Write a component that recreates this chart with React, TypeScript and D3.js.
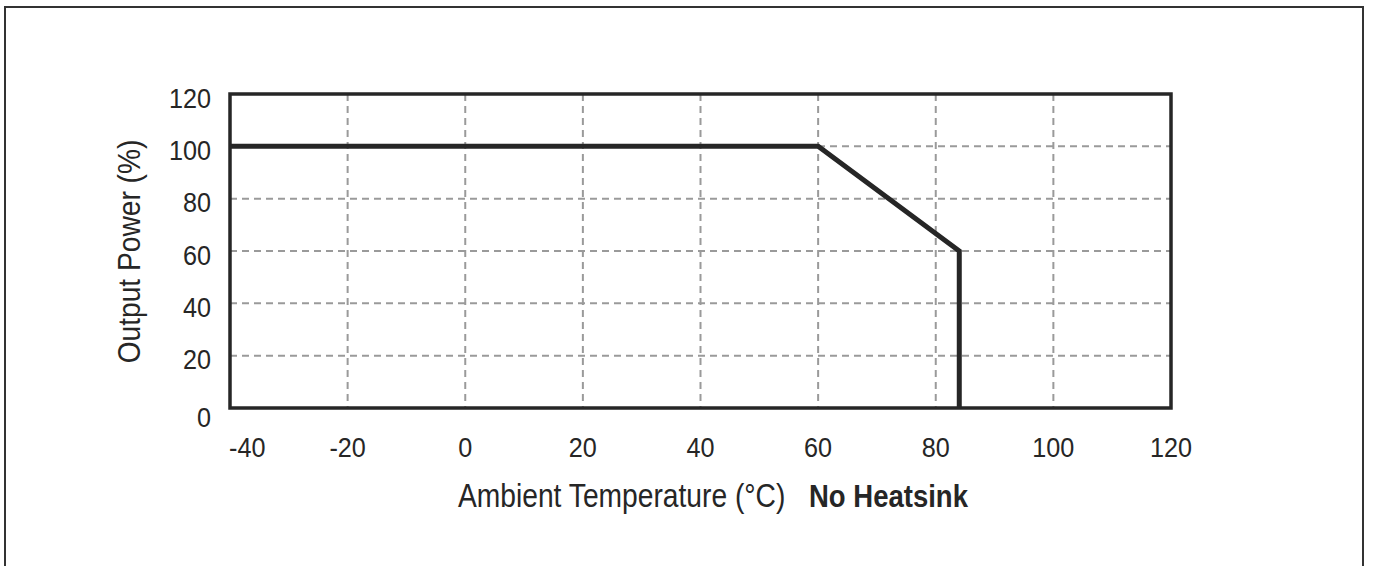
import React from 'react';
import * as d3 from 'd3';

// derating curve, no heatsink
const tempPoints = [-40, 60, 84, 84];
const powerPoints = [100, 100, 60, 0];
const xTicks = [-40, -20, 0, 20, 40, 60, 80, 100, 120];
const yTicks = [0, 20, 40, 60, 80, 100, 120];

const FONT = "'Liberation Sans', Arial, Helvetica, sans-serif";
const INK = '#262626';

// condensed look: squeeze the glyphs horizontally
const Label: React.FC<{
  x: number;
  y: number;
  size: number;
  anchor?: 'start' | 'middle' | 'end';
  bold?: boolean;
  sx?: number;
  rotate?: number;
  children: React.ReactNode;
}> = ({ x, y, size, anchor = 'start', bold = false, sx = 0.87, rotate = 0, children }) => (
  <g transform={`translate(${x},${y}) rotate(${rotate}) scale(${sx},1)`}>
    <text textAnchor={anchor} fontSize={size} fontWeight={bold ? 'bold' : 'normal'} fill={INK}>
      {children}
    </text>
  </g>
);

const App: React.FC = () => {
  const width = 1373;
  const height = 566;
  const left = 230;
  const right = 1171;
  const top = 94;
  const bottom = 408;

  const x = d3.scaleLinear().domain([-40, 120]).range([left, right]);
  const y = d3.scaleLinear().domain([0, 120]).range([bottom, top]);

  const line = d3
    .line<number>()
    .x((d) => x(d))
    .y((_, i) => y(powerPoints[i]));

  const path = line(tempPoints) || '';

  return (
    <svg
      width={width}
      height={height}
      style={{ position: 'absolute', left: 0, top: 0, background: '#fff' }}
      fontFamily={FONT}
    >
      {/* outer frame */}
      <rect x={5} y={7} width={1358} height={570} fill="none" stroke="#333" strokeWidth={2} />

      {/* grid */}
      {xTicks.slice(1, -1).map((t) => (
        <line
          key={'gx' + t}
          x1={x(t)}
          x2={x(t)}
          y1={top}
          y2={bottom}
          stroke="#9a9a9a"
          strokeWidth={2}
          strokeDasharray="7,5"
        />
      ))}
      {yTicks.slice(1, -1).map((t) => (
        <line
          key={'gy' + t}
          x1={left}
          x2={right}
          y1={y(t)}
          y2={y(t)}
          stroke="#9a9a9a"
          strokeWidth={2}
          strokeDasharray="7,5"
        />
      ))}

      {/* plot frame */}
      <rect
        x={left}
        y={top}
        width={right - left}
        height={bottom - top}
        fill="none"
        stroke={INK}
        strokeWidth={3.5}
      />

      {/* curve */}
      <path d={path} fill="none" stroke={INK} strokeWidth={5} strokeLinejoin="miter" />

      {/* y tick labels */}
      {yTicks.map((t) => (
        <Label key={'ly' + t} x={211} y={y(t) + (t === 0 ? 19 : 13.5)} size={28} anchor="end" sx={0.9}>
          {t}
        </Label>
      ))}

      {/* x tick labels */}
      {xTicks.map((t) => (
        <Label
          key={'lx' + t}
          x={t === -40 ? x(t) - 1 : x(t)}
          y={457}
          size={28}
          anchor={t === -40 ? 'start' : 'middle'}
          sx={0.9}
        >
          {t}
        </Label>
      ))}

      {/* axis titles */}
      <Label x={139.5} y={(top + bottom) / 2 + 0.5} size={32} anchor="middle" rotate={-90} sx={0.88}>
        Output Power (%)
      </Label>
      <Label x={458} y={507} size={33} sx={0.855}>
        Ambient Temperature (°C)
      </Label>
      <Label x={809} y={507} size={32} bold sx={0.86}>
        No Heatsink
      </Label>
    </svg>
  );
};

export default App;
